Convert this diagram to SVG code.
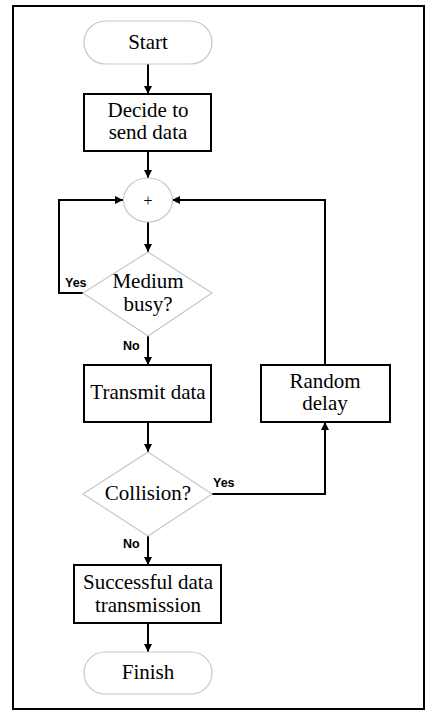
<svg xmlns="http://www.w3.org/2000/svg" width="437" height="714" viewBox="0 0 437 714">
<style>
.frame{fill:#fff;stroke:#000;stroke-width:2}
.box{fill:#fff;stroke:#000;stroke-width:2}
.soft{fill:#fff;stroke:#c8c8c8;stroke-width:1.2}
.t{font-family:"Liberation Serif","Times New Roman",serif;font-size:21px;fill:#000;text-anchor:middle}
.lbl{font-family:"Liberation Sans",Arial,sans-serif;font-size:12.5px;font-weight:bold;fill:#000}
.c{fill:none;stroke:#000;stroke-width:2}
</style>
<defs>
<marker id="ah" viewBox="0 0 10 10" refX="10" refY="5" markerWidth="8" markerHeight="8" markerUnits="userSpaceOnUse" orient="auto">
<path d="M0,0 L10,5 L0,10 z" fill="#000"/>
</marker>
</defs>
<rect class="frame" x="13" y="6" width="411" height="703"/>
<g id="connectors">
<path class="c" d="M148,64 V94" marker-end="url(#ah)"/>
<path class="c" d="M148,151 V178" marker-end="url(#ah)"/>
<path class="c" d="M148,222 V252" marker-end="url(#ah)"/>
<path class="c" d="M83,293 H59 V200 H123" marker-end="url(#ah)"/>
<path class="c" d="M148,336 V365" marker-end="url(#ah)"/>
<path class="c" d="M148,422 V452" marker-end="url(#ah)"/>
<path class="c" d="M212,494 H325 V422" marker-end="url(#ah)"/>
<path class="c" d="M325,365 V200 H172" marker-end="url(#ah)"/>
<path class="c" d="M148,536 V565" marker-end="url(#ah)"/>
<path class="c" d="M148,623 V652" marker-end="url(#ah)"/>
</g>
<g id="start">
<rect class="soft" x="84" y="21" width="128" height="43" rx="21.5"/>
<text class="t" x="148" y="49">Start</text>
</g>
<g id="decide">
<rect class="box" x="84" y="94" width="127" height="57"/>
<text class="t" x="148" y="117">Decide to</text>
<text class="t" x="148" y="139">send data</text>
</g>
<g id="junction">
<ellipse class="soft" cx="148" cy="200" rx="24.5" ry="22"/>
<text class="t" x="148" y="206" style="font-size:16px;fill:#000">+</text>
</g>
<g id="medium">
<polygon class="soft" points="148,252 212,293 148,336 83,293"/>
<text class="t" x="148" y="288">Medium</text>
<text class="t" x="148" y="311">busy?</text>
</g>
<g id="transmit">
<rect class="box" x="84" y="365" width="127" height="57"/>
<text class="t" x="148" y="399">Transmit data</text>
</g>
<g id="random">
<rect class="box" x="261" y="365" width="129" height="57"/>
<text class="t" x="325" y="388">Random</text>
<text class="t" x="325" y="410">delay</text>
</g>
<g id="collision">
<polygon class="soft" points="148,452 212,494 148,536 83,494"/>
<text class="t" x="148" y="500">Collision?</text>
</g>
<g id="success">
<rect class="box" x="74" y="565" width="147" height="58"/>
<text class="t" x="148" y="589">Successful data</text>
<text class="t" x="148" y="612">transmission</text>
</g>
<g id="finish">
<rect class="soft" x="84" y="652" width="128" height="42" rx="21"/>
<text class="t" x="148" y="679">Finish</text>
</g>
<g id="labels">
<text class="lbl" x="65" y="287">Yes</text>
<text class="lbl" x="123" y="350">No</text>
<text class="lbl" x="213" y="487">Yes</text>
<text class="lbl" x="123" y="548">No</text>
</g>
</svg>
